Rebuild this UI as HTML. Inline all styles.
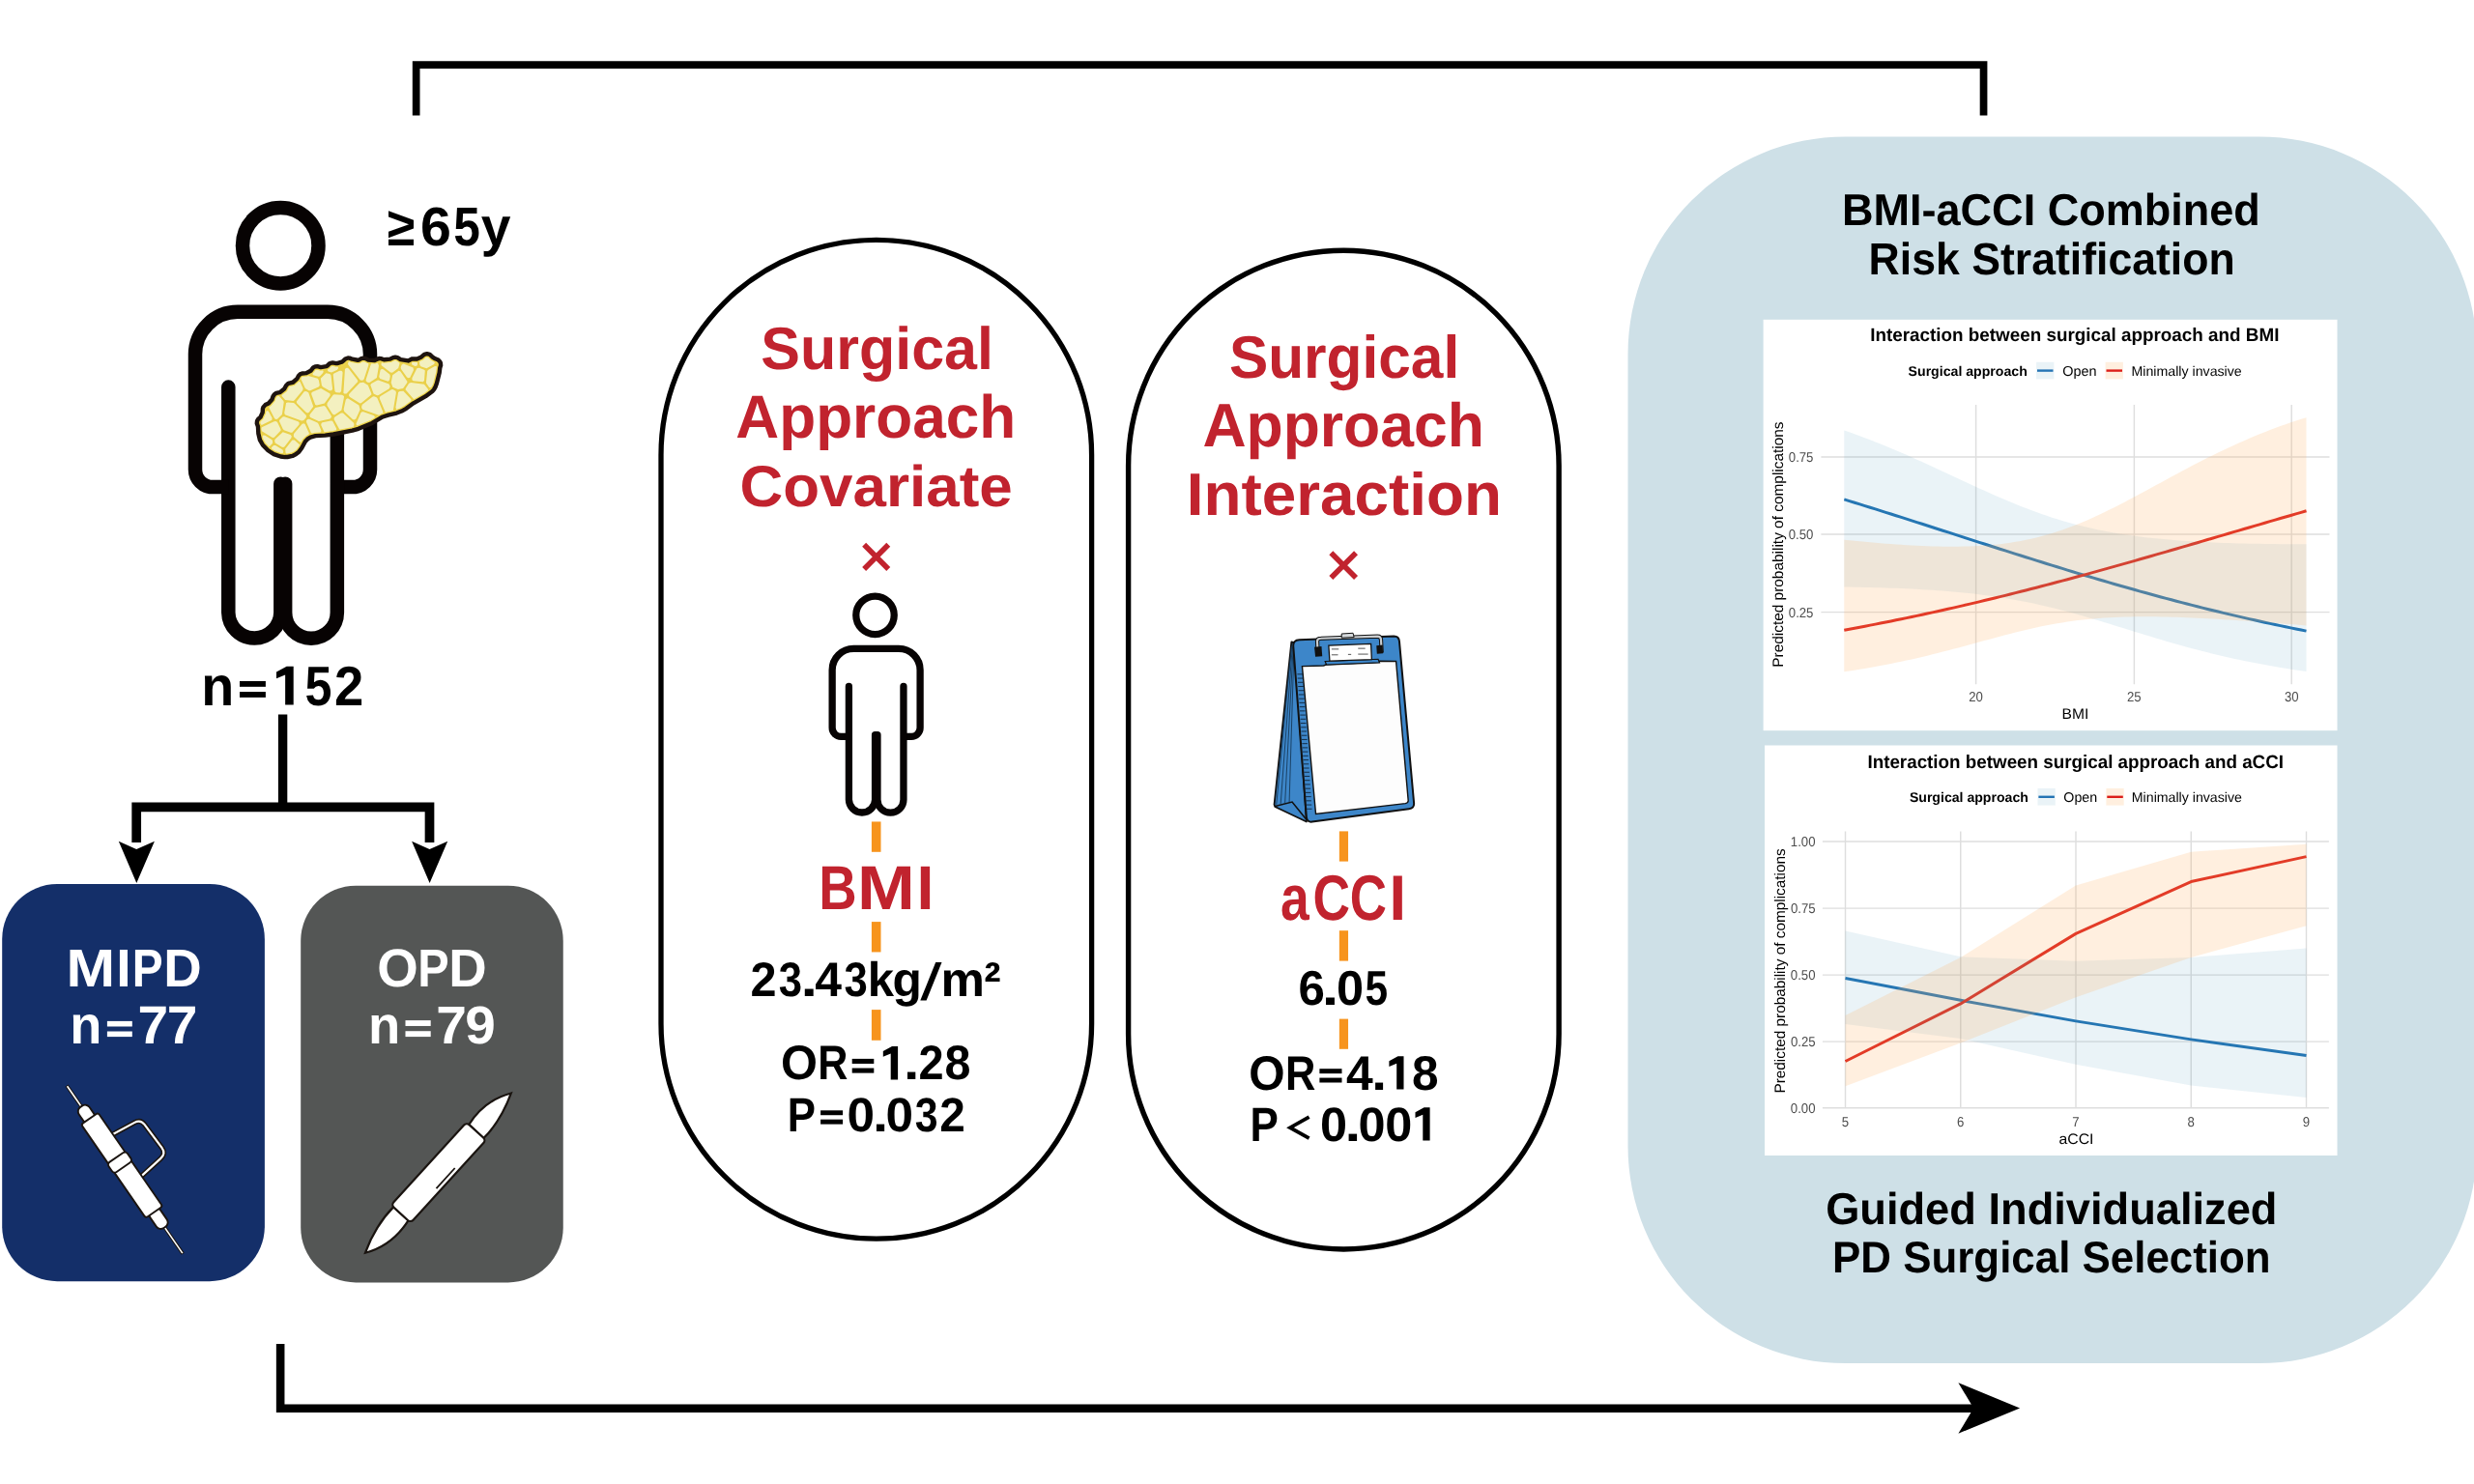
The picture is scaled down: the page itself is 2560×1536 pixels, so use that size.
<!DOCTYPE html>
<html><head><meta charset="utf-8"><title>Graphical abstract</title>
<style>
html,body{margin:0;padding:0;background:#fff;width:2560px;height:1536px;overflow:hidden}
svg{display:block;will-change:transform;font-family:"Liberation Sans",sans-serif;font-kerning:none;text-rendering:geometricPrecision}
</style></head><body>
<svg width="2560" height="1536" viewBox="0 0 2560 1536">
<rect width="2560" height="1536" fill="#fff"/>
<path d="M430.65,119.6 V67.15 H2052.55 V119.6" fill="none" stroke="#000" stroke-width="7.7"/>
<path d="M290.15,1391 V1457.7 H2045" fill="none" stroke="#000" stroke-width="8.6"/>
<polygon points="2026.4,1431.2 2090.1,1457.6 2026.4,1483.7 2042.2,1457.6" fill="#000"/>
<path d="M292.6,739.4 V835.3" fill="none" stroke="#000" stroke-width="9.4"/>
<path d="M141.2,872 V835.3 H444.5 V872" fill="none" stroke="#000" stroke-width="9.7"/>
<polygon points="122.79999999999998,870.8 141.29999999999998,914 159.89999999999998,870.8 141.2,879.1" fill="#000"/>
<polygon points="426.1,870.8 444.6,914 463.2,870.8 444.5,879.1" fill="#000"/>
<rect x="2.2" y="915.1" width="271.7" height="411.1" rx="57" fill="#142f69"/>
<rect x="311.2" y="916.7" width="271.55" height="410.7" rx="57" fill="#545655"/>
<text transform="translate(400.86,254.00) scale(0.9179,1)" font-size="56.54" font-weight="bold" fill="#000">≥</text>
<text transform="translate(435.10,254.00) scale(1.0135,1)" font-size="56.54" font-weight="bold" fill="#000">6</text>
<text transform="translate(469.27,254.00) scale(0.8780,1)" font-size="56.54" font-weight="bold" fill="#000">5</text>
<text transform="translate(497.87,254.00) scale(0.9772,1)" font-size="56.54" font-weight="bold" fill="#000">y</text>
<text transform="translate(208.23,729.50) scale(0.9653,1)" font-size="57.70" font-weight="bold" fill="#000">n</text>
<rect x="248.00" y="705.00" width="26.90" height="5.83" fill="#000"/>
<rect x="248.00" y="716.07" width="26.90" height="5.83" fill="#000"/>
<polygon points="296.64,689.80 303.70,689.80 303.70,729.50 295.14,729.50 295.14,698.57 286.00,702.15 286.00,695.57" fill="#000"/>
<text transform="translate(315.55,729.50) scale(0.8708,1)" font-size="57.70" font-weight="bold" fill="#000">5</text>
<text transform="translate(345.91,729.50) scale(0.9431,1)" font-size="57.70" font-weight="bold" fill="#000">2</text>
<text transform="translate(68.43,1020.90) scale(1.1005,1)" font-size="55.23" font-weight="bold" fill="#fff">M</text>
<text transform="translate(120.18,1020.90) scale(1.0055,1)" font-size="55.23" font-weight="bold" fill="#fff">I</text>
<text transform="translate(136.80,1020.90) scale(0.8670,1)" font-size="55.23" font-weight="bold" fill="#fff">P</text>
<text transform="translate(169.15,1020.90) scale(0.9890,1)" font-size="55.23" font-weight="bold" fill="#fff">D</text>
<text transform="translate(72.22,1080.30) scale(0.9746,1)" font-size="55.67" font-weight="bold" fill="#fff">n</text>
<rect x="110.90" y="1056.90" width="25.90" height="5.59" fill="#fff"/>
<rect x="110.90" y="1067.51" width="25.90" height="5.59" fill="#fff"/>
<text transform="translate(142.46,1080.30) scale(1.0221,1)" font-size="55.67" font-weight="bold" fill="#fff">7</text>
<text transform="translate(172.76,1080.30) scale(1.0221,1)" font-size="55.67" font-weight="bold" fill="#fff">7</text>
<text transform="translate(390.16,1020.90) scale(0.9876,1)" font-size="55.38" font-weight="bold" fill="#fff">O</text>
<text transform="translate(432.35,1020.90) scale(0.8775,1)" font-size="55.38" font-weight="bold" fill="#fff">P</text>
<text transform="translate(464.35,1020.90) scale(0.9864,1)" font-size="55.38" font-weight="bold" fill="#fff">D</text>
<text transform="translate(381.11,1080.30) scale(0.9886,1)" font-size="55.09" font-weight="bold" fill="#fff">n</text>
<rect x="419.50" y="1056.10" width="26.20" height="5.86" fill="#fff"/>
<rect x="419.50" y="1067.23" width="26.20" height="5.86" fill="#fff"/>
<text transform="translate(451.36,1080.30) scale(1.0329,1)" font-size="55.09" font-weight="bold" fill="#fff">7</text>
<text transform="translate(481.33,1080.30) scale(1.0306,1)" font-size="55.09" font-weight="bold" fill="#fff">9</text>
<g><circle cx="290.25" cy="254.15" r="39.25" fill="none" stroke="#070303" stroke-width="14.5"/><path d="M290.35,500.7 V634 A27.03,27.03 0 0 1 236.3,634 V400.6" fill="none" stroke="#070303" stroke-width="14.5" stroke-linecap="round"/><path d="M236.3,504.1 H220.1 A18,18 0 0 1 202,486.1 V366.9 A44,44 0 0 1 246,322.85 H339 A44,44 0 0 1 383,366.9 V486.1 A18,18 0 0 1 365,504.1 H348.85" fill="none" stroke="#070303" stroke-width="14.5" stroke-linejoin="round"/><path d="M348.85,400.6 V634 A26.85,26.85 0 0 1 295.15,634 V500.7" fill="none" stroke="#070303" stroke-width="14.5" stroke-linecap="round"/></g>
<g transform="translate(759.649,509.090) scale(0.5025)"><circle cx="290.25" cy="254.15" r="39.25" fill="none" stroke="#070303" stroke-width="14.5"/><path d="M290.35,500.7 V634 A27.03,27.03 0 0 1 236.3,634 V400.6" fill="none" stroke="#070303" stroke-width="14.5" stroke-linecap="round"/><path d="M236.3,504.1 H220.1 A18,18 0 0 1 202,486.1 V366.9 A44,44 0 0 1 246,322.85 H339 A44,44 0 0 1 383,366.9 V486.1 A18,18 0 0 1 365,504.1 H348.85" fill="none" stroke="#070303" stroke-width="14.5" stroke-linejoin="round"/><path d="M348.85,400.6 V634 A26.85,26.85 0 0 1 295.15,634 V500.7" fill="none" stroke="#070303" stroke-width="14.5" stroke-linecap="round"/></g>
<path d="M266.96,441.42 L267.35,448.83 L268.94,455.36 L271.99,460.77 L277.37,466.27 L283.39,470.17 L290.30,472.48 L294.78,473.06 L297.48,473.02 L302.68,471.90 L305.95,470.33 L309.28,467.75 L312.21,463.70 L315.87,456.94 L318.26,454.40 L321.25,452.60 L326.48,451.12 L336.40,450.64 L344.99,449.52 L364.55,445.62 L370.90,443.79 L385.05,437.92 L396.02,431.47 L401.79,429.62 L410.41,427.57 L415.59,425.56 L420.40,422.83 L427.86,417.35 L440.44,410.21 L447.39,405.09 L449.05,403.15 L450.74,400.09 L451.92,396.84 L454.70,385.70 L455.24,380.99 L456.11,378.09 L455.88,375.70 L455.17,374.21 L453.52,372.57 L450.35,371.32 L447.67,369.61 L444.72,366.88 L441.81,366.16 L439.02,366.86 L436.06,369.42 L431.51,371.43 L426.66,371.35 L422.36,373.44 L414.54,372.09 L411.36,370.09 L409.08,369.63 L406.73,370.10 L403.69,371.64 L397.28,372.25 L394.15,371.15 L392.42,371.06 L390.69,371.49 L387.65,372.93 L381.13,372.62 L378.49,371.16 L376.17,370.70 L373.81,371.17 L371.28,372.58 L370.22,372.76 L364.45,371.71 L361.68,370.61 L360.08,370.53 L357.22,371.55 L354.41,374.29 L348.74,376.05 L347.87,376.13 L344.27,375.40 L341.94,375.86 L340.45,376.75 L338.61,378.63 L337.80,379.06 L331.90,380.07 L328.47,379.18 L326.15,379.41 L324.13,380.49 L321.48,383.77 L317.01,386.15 L312.74,386.44 L310.56,387.34 L308.90,389.00 L307.46,391.87 L303.09,395.74 L299.34,396.54 L297.80,397.26 L296.09,398.96 L294.18,402.58 L289.49,406.15 L285.80,406.95 L283.85,408.25 L282.54,410.21 L281.43,413.54 L277.83,417.56 L274.52,419.11 L272.46,421.38 L271.92,422.89 L271.68,426.91 L269.58,431.54 L267.13,433.83 L266.02,435.91 L265.80,438.17Z" fill="#ead04a"/><path d="M274.3,450.8 L272.8,450.5 L271.5,451.1 L270.9,452.5 L271.3,454.3 L274.2,459.5 L276.9,462.1 L278.8,462.3 L282.1,458.8 L282.0,456.1 L281.1,455.1ZM281.3,462.8 L280.7,464.1 L281.0,465.4 L284.4,467.8 L290.7,469.9 L292.0,469.7 L292.9,468.8 L293.2,467.3 L292.4,465.4 L285.1,461.0 L283.2,461.0ZM268.5,438.4 L269.5,439.6 L271.2,439.8 L281.4,434.7 L281.6,432.6 L277.7,425.6 L276.0,425.2 L274.6,426.2 L271.7,432.9 L268.7,436.3ZM292.2,407.2 L291.4,408.5 L291.6,409.9 L295.2,413.9 L303.6,414.9 L304.9,414.1 L313.2,403.9 L313.6,402.0 L310.7,395.6 L309.7,394.8 L308.4,394.7 L303.9,398.2 L299.2,399.4 L296.3,404.0ZM283.8,452.7 L290.6,445.5 L290.5,444.3 L287.0,437.1 L285.5,436.1 L283.6,436.2 L270.9,442.2 L269.7,443.8 L270.5,446.0 L282.0,453.1ZM284.8,454.5 L284.1,456.1 L284.8,458.4 L291.8,462.7 L293.2,463.0 L294.5,462.3 L301.4,453.2 L301.8,451.5 L300.6,449.9 L292.7,447.3ZM323.8,385.1 L323.2,386.7 L324.1,388.2 L329.6,389.8 L330.9,389.4 L334.0,386.3 L334.7,384.8 L334.3,383.5 L333.3,382.7 L328.0,381.7 L325.8,382.5ZM283.5,414.9 L278.4,420.7 L278.5,422.2 L284.0,432.9 L285.4,434.0 L287.0,433.8 L291.9,428.9 L293.7,416.5 L293.4,415.1 L288.8,409.9 L286.7,409.5 L284.9,411.2ZM295.5,468.6 L296.3,469.9 L297.7,470.4 L301.9,469.5 L304.6,468.2 L307.5,465.9 L309.9,462.6 L310.3,461.4 L310.0,460.2 L304.6,455.4 L302.4,455.5 L295.2,464.8ZM292.7,444.1 L293.9,445.2 L300.9,447.8 L302.3,447.7 L309.5,439.5 L309.7,437.5 L308.4,436.2 L294.3,431.3 L292.8,431.3 L289.4,434.4 L288.9,435.8ZM303.8,451.4 L304.4,452.5 L309.8,457.2 L311.4,457.8 L312.8,457.1 L316.5,452.6 L319.4,450.6 L319.9,448.5 L315.6,439.0 L314.1,438.3 L312.5,439.0 L304.0,449.1ZM314.3,435.0 L316.9,431.9 L316.9,429.9 L304.7,417.6 L303.6,417.0 L297.9,416.5 L296.1,417.1 L294.2,427.2 L294.9,429.2 L312.1,435.4ZM329.5,438.7 L328.5,437.6 L319.9,433.7 L318.2,433.9 L317.0,435.5 L317.1,436.9 L321.8,447.8 L323.3,449.1 L330.8,448.4 L332.1,447.4 L332.4,445.6ZM324.2,420.7 L319.2,406.2 L316.8,405.0 L314.8,405.2 L306.7,415.7 L307.3,417.4 L316.7,426.8 L318.1,427.4 L319.8,426.8ZM322.2,407.9 L326.3,419.1 L327.8,419.5 L335.8,417.4 L341.6,409.6 L341.6,407.4 L332.1,401.9 L323.1,405.7 L322.3,406.7ZM320.8,428.8 L320.3,430.5 L321.2,432.0 L329.9,435.9 L341.5,433.5 L343.0,431.7 L342.7,430.2 L336.9,420.9 L335.4,419.9 L326.3,422.1ZM312.6,389.2 L311.4,390.4 L311.3,391.9 L315.6,401.6 L316.6,402.6 L319.7,404.2 L321.0,404.3 L329.5,400.6 L330.5,399.6 L330.8,398.4 L329.8,393.4 L328.7,391.8 L317.9,388.8ZM332.2,440.1 L335.8,447.7 L337.1,448.0 L344.7,447.0 L347.9,445.9 L348.2,443.7 L344.1,435.8 L342.2,435.4 L333.6,437.3 L332.6,438.0ZM342.3,378.6 L338.9,382.3 L339.2,383.9 L340.3,384.7 L343.0,385.4 L349.0,382.7 L350.1,380.9 L349.8,379.7 L348.8,378.8 L344.3,378.0ZM340.8,404.3 L343.1,404.3 L344.1,402.6 L342.5,388.6 L341.3,387.1 L337.4,386.3 L331.8,391.7 L332.9,398.8 L333.8,400.2ZM338.6,417.2 L338.4,419.5 L343.9,428.3 L345.0,429.2 L346.5,429.2 L353.4,424.5 L356.1,410.5 L355.3,409.5 L353.7,408.8 L345.6,408.3 L344.5,409.1ZM368.4,438.7 L369.3,440.6 L371.4,440.9 L384.1,435.6 L387.5,433.5 L387.9,431.2 L386.6,429.9 L376.1,426.2 L374.6,426.2 L373.4,427.3ZM346.6,431.6 L345.7,432.8 L345.7,434.3 L351.6,445.1 L353.1,445.3 L363.9,443.2 L366.0,442.0 L366.4,438.9 L366.0,437.8 L354.9,427.5 L352.9,427.5ZM428.0,373.9 L426.0,375.0 L426.1,377.3 L429.3,379.1 L431.2,378.8 L432.1,377.3 L431.8,375.1 L430.7,374.1ZM356.9,382.5 L355.4,406.7 L356.3,407.6 L358.5,407.4 L370.3,395.0 L369.9,393.2 L360.8,381.5 L359.5,380.7 L357.8,381.1ZM346.4,404.4 L347.1,405.7 L348.4,406.3 L351.7,406.4 L353.1,404.9 L354.6,385.7 L354.2,384.5 L353.2,383.7 L351.5,383.8 L345.6,386.6 L344.7,387.7ZM370.6,375.3 L361.8,373.8 L360.6,374.6 L360.0,376.4 L360.3,377.6 L372.4,393.1 L373.7,393.8 L375.8,393.4 L376.7,392.3 L381.4,377.7 L381.2,375.8 L376.4,373.3ZM355.6,423.8 L356.3,425.9 L364.9,434.0 L366.5,434.6 L368.3,433.5 L372.6,423.9 L371.4,419.6 L359.9,412.3 L358.7,412.7 L357.8,413.8ZM374.0,417.0 L384.3,408.5 L384.3,407.2 L380.8,398.7 L376.0,395.8 L372.3,396.3 L361.5,407.4 L360.8,408.9 L361.8,410.7 L372.6,417.5ZM374.9,418.8 L374.1,420.9 L374.5,422.9 L375.6,423.9 L392.8,429.9 L395.4,429.0 L396.3,427.9 L396.3,426.2 L390.5,412.3 L389.5,411.2 L387.0,410.3 L385.7,410.5ZM404.4,374.1 L395.6,374.9 L394.7,375.8 L394.4,377.0 L394.8,378.2 L403.8,385.3 L405.0,385.8 L406.3,385.5 L412.2,381.1 L413.6,375.9 L412.8,374.1 L409.3,372.2ZM402.7,402.2 L403.7,400.1 L402.5,397.6 L391.5,393.5 L390.3,393.7 L384.3,397.0 L383.3,398.5 L386.6,407.6 L390.2,409.3 L391.7,409.0ZM393.8,410.1 L392.9,411.0 L392.8,412.6 L398.7,426.5 L400.6,427.3 L406.0,425.9 L406.9,424.5 L409.9,406.5 L409.5,404.8 L406.4,403.1 L405.0,403.2ZM380.3,395.7 L382.3,395.9 L389.9,391.1 L392.0,378.6 L391.3,376.4 L390.2,375.4 L385.5,375.4 L383.9,376.7 L378.6,392.9 L378.8,394.5ZM403.8,389.3 L403.2,387.4 L396.6,382.3 L394.9,382.0 L393.6,382.9 L392.2,390.0 L393.3,392.0 L401.6,394.7 L403.1,393.3ZM404.7,396.1 L406.4,400.7 L411.9,403.1 L417.1,402.0 L421.2,396.2 L421.5,394.9 L414.4,384.6 L412.6,383.8 L406.2,388.3ZM409.4,421.7 L410.3,423.9 L412.4,424.1 L418.9,420.8 L425.6,415.5 L425.4,413.3 L417.4,404.7 L413.6,404.9 L412.1,406.0ZM414.7,380.3 L415.0,381.9 L421.1,390.5 L422.7,391.2 L424.3,390.7 L428.0,382.9 L427.5,380.6 L417.4,376.4 L415.6,377.4ZM426.4,391.3 L426.4,393.2 L427.7,394.3 L437.9,395.2 L439.0,393.7 L439.8,383.6 L438.9,382.7 L433.8,380.7 L431.4,381.2ZM425.2,396.0 L423.2,396.8 L419.8,401.9 L419.5,403.3 L428.2,413.2 L430.3,413.1 L439.0,408.2 L443.1,404.9 L442.9,402.8 L438.9,397.8ZM434.2,377.3 L435.4,379.2 L441.4,381.3 L449.1,377.1 L450.0,375.0 L449.3,373.7 L446.0,371.5 L444.0,369.4 L441.5,368.8 L434.7,373.0 L434.1,374.1ZM443.3,382.7 L442.2,384.1 L440.9,396.3 L444.1,400.9 L446.1,401.6 L447.5,400.7 L449.5,396.2 L452.2,385.4 L452.6,380.7 L451.7,379.3 L450.0,379.0Z" fill="#f3f0c0"/><clipPath id="pcl"><path d="M266.96,441.42 L267.35,448.83 L268.94,455.36 L271.99,460.77 L277.37,466.27 L283.39,470.17 L290.30,472.48 L294.78,473.06 L297.48,473.02 L302.68,471.90 L305.95,470.33 L309.28,467.75 L312.21,463.70 L315.87,456.94 L318.26,454.40 L321.25,452.60 L326.48,451.12 L336.40,450.64 L344.99,449.52 L364.55,445.62 L370.90,443.79 L385.05,437.92 L396.02,431.47 L401.79,429.62 L410.41,427.57 L415.59,425.56 L420.40,422.83 L427.86,417.35 L440.44,410.21 L447.39,405.09 L449.05,403.15 L450.74,400.09 L451.92,396.84 L454.70,385.70 L455.24,380.99 L456.11,378.09 L455.88,375.70 L455.17,374.21 L453.52,372.57 L450.35,371.32 L447.67,369.61 L444.72,366.88 L441.81,366.16 L439.02,366.86 L436.06,369.42 L431.51,371.43 L426.66,371.35 L422.36,373.44 L414.54,372.09 L411.36,370.09 L409.08,369.63 L406.73,370.10 L403.69,371.64 L397.28,372.25 L394.15,371.15 L392.42,371.06 L390.69,371.49 L387.65,372.93 L381.13,372.62 L378.49,371.16 L376.17,370.70 L373.81,371.17 L371.28,372.58 L370.22,372.76 L364.45,371.71 L361.68,370.61 L360.08,370.53 L357.22,371.55 L354.41,374.29 L348.74,376.05 L347.87,376.13 L344.27,375.40 L341.94,375.86 L340.45,376.75 L338.61,378.63 L337.80,379.06 L331.90,380.07 L328.47,379.18 L326.15,379.41 L324.13,380.49 L321.48,383.77 L317.01,386.15 L312.74,386.44 L310.56,387.34 L308.90,389.00 L307.46,391.87 L303.09,395.74 L299.34,396.54 L297.80,397.26 L296.09,398.96 L294.18,402.58 L289.49,406.15 L285.80,406.95 L283.85,408.25 L282.54,410.21 L281.43,413.54 L277.83,417.56 L274.52,419.11 L272.46,421.38 L271.92,422.89 L271.68,426.91 L269.58,431.54 L267.13,433.83 L266.02,435.91 L265.80,438.17Z"/></clipPath><path d="M266.96,441.42 L267.35,448.83 L268.94,455.36 L271.99,460.77 L277.37,466.27 L283.39,470.17 L290.30,472.48 L294.78,473.06 L297.48,473.02 L302.68,471.90 L305.95,470.33 L309.28,467.75 L312.21,463.70 L315.87,456.94 L318.26,454.40 L321.25,452.60 L326.48,451.12 L336.40,450.64 L344.99,449.52 L364.55,445.62 L370.90,443.79 L385.05,437.92 L396.02,431.47 L401.79,429.62 L410.41,427.57 L415.59,425.56 L420.40,422.83 L427.86,417.35 L440.44,410.21 L447.39,405.09 L449.05,403.15 L450.74,400.09 L451.92,396.84 L454.70,385.70 L455.24,380.99 L456.11,378.09 L455.88,375.70 L455.17,374.21 L453.52,372.57 L450.35,371.32 L447.67,369.61 L444.72,366.88 L441.81,366.16 L439.02,366.86 L436.06,369.42 L431.51,371.43 L426.66,371.35 L422.36,373.44 L414.54,372.09 L411.36,370.09 L409.08,369.63 L406.73,370.10 L403.69,371.64 L397.28,372.25 L394.15,371.15 L392.42,371.06 L390.69,371.49 L387.65,372.93 L381.13,372.62 L378.49,371.16 L376.17,370.70 L373.81,371.17 L371.28,372.58 L370.22,372.76 L364.45,371.71 L361.68,370.61 L360.08,370.53 L357.22,371.55 L354.41,374.29 L348.74,376.05 L347.87,376.13 L344.27,375.40 L341.94,375.86 L340.45,376.75 L338.61,378.63 L337.80,379.06 L331.90,380.07 L328.47,379.18 L326.15,379.41 L324.13,380.49 L321.48,383.77 L317.01,386.15 L312.74,386.44 L310.56,387.34 L308.90,389.00 L307.46,391.87 L303.09,395.74 L299.34,396.54 L297.80,397.26 L296.09,398.96 L294.18,402.58 L289.49,406.15 L285.80,406.95 L283.85,408.25 L282.54,410.21 L281.43,413.54 L277.83,417.56 L274.52,419.11 L272.46,421.38 L271.92,422.89 L271.68,426.91 L269.58,431.54 L267.13,433.83 L266.02,435.91 L265.80,438.17Z" fill="none" stroke="#efd64c" stroke-width="7" clip-path="url(#pcl)"/><path d="M266.96,441.42 L267.35,448.83 L268.94,455.36 L271.99,460.77 L277.37,466.27 L283.39,470.17 L290.30,472.48 L294.78,473.06 L297.48,473.02 L302.68,471.90 L305.95,470.33 L309.28,467.75 L312.21,463.70 L315.87,456.94 L318.26,454.40 L321.25,452.60 L326.48,451.12 L336.40,450.64 L344.99,449.52 L364.55,445.62 L370.90,443.79 L385.05,437.92 L396.02,431.47 L401.79,429.62 L410.41,427.57 L415.59,425.56 L420.40,422.83 L427.86,417.35 L440.44,410.21 L447.39,405.09 L449.05,403.15 L450.74,400.09 L451.92,396.84 L454.70,385.70 L455.24,380.99 L456.11,378.09 L455.88,375.70 L455.17,374.21 L453.52,372.57 L450.35,371.32 L447.67,369.61 L444.72,366.88 L441.81,366.16 L439.02,366.86 L436.06,369.42 L431.51,371.43 L426.66,371.35 L422.36,373.44 L414.54,372.09 L411.36,370.09 L409.08,369.63 L406.73,370.10 L403.69,371.64 L397.28,372.25 L394.15,371.15 L392.42,371.06 L390.69,371.49 L387.65,372.93 L381.13,372.62 L378.49,371.16 L376.17,370.70 L373.81,371.17 L371.28,372.58 L370.22,372.76 L364.45,371.71 L361.68,370.61 L360.08,370.53 L357.22,371.55 L354.41,374.29 L348.74,376.05 L347.87,376.13 L344.27,375.40 L341.94,375.86 L340.45,376.75 L338.61,378.63 L337.80,379.06 L331.90,380.07 L328.47,379.18 L326.15,379.41 L324.13,380.49 L321.48,383.77 L317.01,386.15 L312.74,386.44 L310.56,387.34 L308.90,389.00 L307.46,391.87 L303.09,395.74 L299.34,396.54 L297.80,397.26 L296.09,398.96 L294.18,402.58 L289.49,406.15 L285.80,406.95 L283.85,408.25 L282.54,410.21 L281.43,413.54 L277.83,417.56 L274.52,419.11 L272.46,421.38 L271.92,422.89 L271.68,426.91 L269.58,431.54 L267.13,433.83 L266.02,435.91 L265.80,438.17Z" fill="none" stroke="#1e1410" stroke-width="4.4" stroke-linejoin="round"/>
<rect x="684" y="248.3" width="445.6" height="1033.9" rx="222.8" fill="none" stroke="#000" stroke-width="5.3"/>
<rect x="1167.6" y="259.2" width="445.5" height="1033.8" rx="222.75" fill="none" stroke="#000" stroke-width="5.4"/>
<text transform="translate(787.24,381.80) scale(0.9866,1)" font-size="61.83" font-weight="bold" fill="#c1232e">Surgical</text>
<text transform="translate(761.35,453.00) scale(0.9896,1)" font-size="62.79" font-weight="bold" fill="#c1232e">Approach</text>
<text transform="translate(765.46,523.60) scale(1.0296,1)" font-size="60.17" font-weight="bold" fill="#c1232e">Covariate</text>
<text transform="translate(1271.96,391.00) scale(0.9725,1)" font-size="62.10" font-weight="bold" fill="#c1232e">Surgical</text>
<text transform="translate(1244.44,462.00) scale(0.9794,1)" font-size="63.76" font-weight="bold" fill="#c1232e">Approach</text>
<text transform="translate(1227.73,533.00) scale(1.0276,1)" font-size="62.10" font-weight="bold" fill="#c1232e">Interaction</text>
<path d="M894.1500000000001,563.85 L919.25,588.9499999999999 M919.25,563.85 L894.1500000000001,588.9499999999999" stroke="#c1232e" stroke-width="5.6"/>
<path d="M1377.3500000000001,572.35 L1403.05,598.0500000000001 M1403.05,572.35 L1377.3500000000001,598.0500000000001" stroke="#c1232e" stroke-width="5.6"/>
<rect x="901.90" y="850.45" width="9.6" height="31.35" fill="#f7941d"/>
<rect x="901.90" y="954.1" width="9.6" height="31.35" fill="#f7941d"/>
<rect x="901.90" y="1045.1" width="9.6" height="31.70" fill="#f7941d"/>
<rect x="1385.85" y="860.4" width="9.2" height="31.20" fill="#f7941d"/>
<rect x="1385.85" y="963.2" width="9.2" height="31.40" fill="#f7941d"/>
<rect x="1385.85" y="1054.6" width="9.2" height="31.20" fill="#f7941d"/>
<text transform="translate(847.25,941.20) scale(0.8499,1)" font-size="64.24" font-weight="bold" fill="#c1232e">B</text>
<text transform="translate(887.00,941.20) scale(1.1175,1)" font-size="64.24" font-weight="bold" fill="#c1232e">M</text>
<text transform="translate(948.58,941.20) scale(1.0050,1)" font-size="64.24" font-weight="bold" fill="#c1232e">I</text>
<text transform="translate(776.62,1030.60) scale(0.9693,1)" font-size="50.15" font-weight="bold" fill="#000">2</text>
<text transform="translate(805.70,1030.60) scale(0.8706,1)" font-size="50.15" font-weight="bold" fill="#000">3</text>
<text transform="translate(828.52,1030.60) scale(1.2577,1)" font-size="50.15" font-weight="bold" fill="#000">.</text>
<text transform="translate(843.15,1030.60) scale(0.9940,1)" font-size="50.15" font-weight="bold" fill="#000">4</text>
<text transform="translate(873.50,1030.60) scale(0.8706,1)" font-size="50.15" font-weight="bold" fill="#000">3</text>
<text transform="translate(897.78,1030.60) scale(0.9781,1)" font-size="50.15" font-weight="bold" fill="#000">k</text>
<text transform="translate(923.56,1030.60) scale(0.9913,1)" font-size="50.15" font-weight="bold" fill="#000">g</text>
<text transform="translate(973.43,1030.60) scale(1.0191,1)" font-size="50.15" font-weight="bold" fill="#000">m</text>
<text transform="translate(1018.30,1035.06) scale(0.5224,0.5596)" font-size="100.0" font-weight="bold" fill="#000">²</text>
<polygon points="952.3,1035.6 958.6,1035.6 974.5,996.1 968.2,996.1" fill="#000"/>
<text transform="translate(808.00,1117.40) scale(0.9758,1)" font-size="50.00" font-weight="bold" fill="#000">O</text>
<text transform="translate(846.21,1117.40) scale(0.8633,1)" font-size="50.00" font-weight="bold" fill="#000">R</text>
<rect x="881.70" y="1095.90" width="22.60" height="5.07" fill="#000"/>
<rect x="881.70" y="1105.53" width="22.60" height="5.07" fill="#000"/>
<polygon points="923.00,1083.00 929.10,1083.00 929.10,1117.40 921.70,1117.40 921.70,1090.60 913.80,1093.70 913.80,1088.00" fill="#000"/>
<text transform="translate(935.01,1117.40) scale(1.1764,1)" font-size="50.00" font-weight="bold" fill="#000">.</text>
<text transform="translate(950.47,1117.40) scale(0.9388,1)" font-size="50.00" font-weight="bold" fill="#000">2</text>
<text transform="translate(977.46,1117.40) scale(0.9683,1)" font-size="50.00" font-weight="bold" fill="#000">8</text>
<text transform="translate(814.87,1170.60) scale(0.8790,1)" font-size="49.85" font-weight="bold" fill="#000">P</text>
<rect x="849.10" y="1149.30" width="23.00" height="4.93" fill="#000"/>
<rect x="849.10" y="1158.67" width="23.00" height="4.93" fill="#000"/>
<text transform="translate(876.57,1170.60) scale(1.0291,1)" font-size="49.85" font-weight="bold" fill="#000">0</text>
<text transform="translate(902.96,1170.60) scale(1.1656,1)" font-size="49.85" font-weight="bold" fill="#000">.</text>
<text transform="translate(916.57,1170.60) scale(1.0291,1)" font-size="49.85" font-weight="bold" fill="#000">0</text>
<text transform="translate(946.72,1170.60) scale(0.8595,1)" font-size="49.85" font-weight="bold" fill="#000">3</text>
<text transform="translate(972.14,1170.60) scale(0.9582,1)" font-size="49.85" font-weight="bold" fill="#000">2</text>
<text transform="translate(1324.93,951.70) scale(0.8082,1)" font-size="66.13" font-weight="bold" fill="#c1232e">a</text>
<text transform="translate(1358.61,951.70) scale(0.8071,1)" font-size="66.13" font-weight="bold" fill="#c1232e">C</text>
<text transform="translate(1396.83,951.70) scale(0.8002,1)" font-size="66.13" font-weight="bold" fill="#c1232e">C</text>
<text transform="translate(1437.47,951.70) scale(0.9553,1)" font-size="66.13" font-weight="bold" fill="#c1232e">I</text>
<text transform="translate(1343.40,1040.40) scale(0.9762,1)" font-size="50.44" font-weight="bold" fill="#000">6</text>
<text transform="translate(1367.82,1040.40) scale(1.2505,1)" font-size="50.44" font-weight="bold" fill="#000">.</text>
<text transform="translate(1383.00,1040.40) scale(1.0006,1)" font-size="50.44" font-weight="bold" fill="#000">0</text>
<text transform="translate(1412.60,1040.40) scale(0.8408,1)" font-size="50.44" font-weight="bold" fill="#000">5</text>
<text transform="translate(1292.23,1127.60) scale(0.9614,1)" font-size="50.00" font-weight="bold" fill="#000">O</text>
<text transform="translate(1329.99,1127.60) scale(0.8696,1)" font-size="50.00" font-weight="bold" fill="#000">R</text>
<rect x="1365.40" y="1106.20" width="23.10" height="4.93" fill="#000"/>
<rect x="1365.40" y="1115.57" width="23.10" height="4.93" fill="#000"/>
<text transform="translate(1393.05,1127.60) scale(0.9969,1)" font-size="50.00" font-weight="bold" fill="#000">4</text>
<text transform="translate(1419.35,1127.60) scale(1.1338,1)" font-size="50.00" font-weight="bold" fill="#000">.</text>
<polygon points="1446.48,1093.20 1452.50,1093.20 1452.50,1127.60 1445.20,1127.60 1445.20,1100.80 1437.40,1103.90 1437.40,1098.20" fill="#000"/>
<text transform="translate(1461.12,1127.60) scale(0.9926,1)" font-size="50.00" font-weight="bold" fill="#000">8</text>
<text transform="translate(1293.56,1180.50) scale(0.8838,1)" font-size="49.78" font-weight="bold" fill="#000">P</text>
<text transform="translate(1366.00,1180.50) scale(1.0137,1)" font-size="49.78" font-weight="bold" fill="#000">0</text>
<text transform="translate(1391.51,1180.50) scale(1.2100,1)" font-size="49.78" font-weight="bold" fill="#000">.</text>
<text transform="translate(1405.60,1180.50) scale(1.0137,1)" font-size="49.78" font-weight="bold" fill="#000">0</text>
<text transform="translate(1433.20,1180.50) scale(1.0137,1)" font-size="49.78" font-weight="bold" fill="#000">0</text>
<polygon points="1473.58,1146.25 1479.60,1146.25 1479.60,1180.50 1472.30,1180.50 1472.30,1153.82 1464.50,1156.90 1464.50,1151.23" fill="#000"/>
<path d="M1354.6,1156.2 L1335,1167.2 L1354.6,1178.2" fill="none" stroke="#000" stroke-width="3.8" stroke-linejoin="miter"/>
<rect x="1684.5" y="141.5" width="878.5" height="1269.5" rx="225" fill="#cee0e7"/>
<text transform="translate(1905.99,233.40) scale(0.9774,1)" font-size="46.09" font-weight="bold" fill="#000">BMI-aCCI Combined</text>
<text transform="translate(1933.62,283.60) scale(0.9560,1)" font-size="46.65" font-weight="bold" fill="#000">Risk Stratification</text>
<text transform="translate(1889.14,1267.00) scale(0.9784,1)" font-size="46.23" font-weight="bold" fill="#000">Guided Individualized</text>
<text transform="translate(1896.06,1317.00) scale(0.9579,1)" font-size="45.82" font-weight="bold" fill="#000">PD Surgical Selection</text>
<rect x="1824.6" y="330.8" width="593.90" height="425.40" fill="#fff"/>
<text transform="translate(1935.14,352.80) scale(0.9826,1)" font-size="19.20" font-weight="bold" fill="#000">Interaction between surgical approach and BMI</text>
<text x="1974.59" y="388.70" font-size="14.14" font-weight="bold" fill="#000">Surgical approach</text>
<text x="2134.22" y="388.70" font-size="14.44" font-weight="normal" fill="#000">Open</text>
<text x="2205.54" y="388.70" font-size="14.18" font-weight="normal" fill="#000">Minimally invasive</text>
<rect x="2107.1" y="374.8" width="18.3" height="17.6" fill="#2d87af" fill-opacity="0.1"/>
<line x1="2108.0" y1="383.6" x2="2124.5" y2="383.6" stroke="#2474b4" stroke-width="2.4"/>
<rect x="2178.6" y="374.8" width="18.3" height="17.6" fill="#fdae61" fill-opacity="0.2"/>
<line x1="2179.5" y1="383.6" x2="2196.0" y2="383.6" stroke="#dc1f1a" stroke-width="2.4"/>
<line x1="1884.4" y1="473" x2="2410.5" y2="473" stroke="#dedede" stroke-width="1.45"/>
<line x1="1884.4" y1="552.9" x2="2410.5" y2="552.9" stroke="#dedede" stroke-width="1.45"/>
<line x1="1884.4" y1="633.6" x2="2410.5" y2="633.6" stroke="#dedede" stroke-width="1.45"/>
<line x1="2044.6" y1="419" x2="2044.6" y2="708.3" stroke="#dedede" stroke-width="1.45"/>
<line x1="2208.4" y1="419" x2="2208.4" y2="708.3" stroke="#dedede" stroke-width="1.45"/>
<line x1="2371.2" y1="419" x2="2371.2" y2="708.3" stroke="#dedede" stroke-width="1.45"/>
<text transform="translate(1850.80,477.98) scale(0.9250,1)" font-size="14.25" font-weight="normal" fill="#4d4d4d">0.75</text>
<text transform="translate(1850.76,557.88) scale(0.9250,1)" font-size="14.25" font-weight="normal" fill="#4d4d4d">0.50</text>
<text transform="translate(1850.80,638.58) scale(0.9250,1)" font-size="14.25" font-weight="normal" fill="#4d4d4d">0.25</text>
<text transform="translate(2037.20,725.90) scale(0.9250,1)" font-size="14.25" font-weight="normal" fill="#4d4d4d">20</text>
<text transform="translate(2201.01,725.90) scale(0.9250,1)" font-size="14.25" font-weight="normal" fill="#4d4d4d">25</text>
<text transform="translate(2363.88,725.90) scale(0.9250,1)" font-size="14.25" font-weight="normal" fill="#4d4d4d">30</text>
<text transform="translate(2133.52,743.50) scale(1.0164,1)" font-size="15.40" font-weight="normal" fill="#000">BMI</text>
<text transform="translate(1844.60,690.76) rotate(-90)" font-size="15.41" fill="#000">Predicted probability of complications</text>
<path d="M1908.30,516.93 L1913.67,518.57 L1919.05,520.23 L1924.42,521.89 L1929.79,523.56 L1935.17,525.24 L1940.54,526.92 L1945.91,528.61 L1951.28,530.31 L1956.66,532.01 L1962.03,533.71 L1967.40,535.42 L1972.78,537.13 L1978.15,538.85 L1983.52,540.57 L1988.90,542.29 L1994.27,544.01 L1999.64,545.74 L2005.01,547.47 L2010.39,549.20 L2015.76,550.93 L2021.13,552.66 L2026.51,554.39 L2031.88,556.12 L2037.25,557.85 L2042.63,559.58 L2048.00,561.31 L2053.37,563.03 L2058.74,564.76 L2064.12,566.48 L2069.49,568.20 L2074.86,569.91 L2080.24,571.62 L2085.61,573.32 L2090.98,575.02 L2096.36,576.72 L2101.73,578.41 L2107.10,580.10 L2112.48,581.77 L2117.85,583.45 L2123.22,585.11 L2128.59,586.77 L2133.97,588.42 L2139.34,590.06 L2144.71,591.70 L2150.09,593.32 L2155.46,594.94 L2160.83,596.55 L2166.21,598.15 L2171.58,599.73 L2176.95,601.31 L2182.32,602.88 L2187.70,604.44 L2193.07,605.99 L2198.44,607.52 L2203.82,609.05 L2209.19,610.56 L2214.56,612.07 L2219.94,613.56 L2225.31,615.03 L2230.68,616.50 L2236.06,617.95 L2241.43,619.39 L2246.80,620.82 L2252.17,622.24 L2257.55,623.64 L2262.92,625.03 L2268.29,626.40 L2273.67,627.77 L2279.04,629.11 L2284.41,630.45 L2289.79,631.77 L2295.16,633.08 L2300.53,634.37 L2305.90,635.65 L2311.28,636.91 L2316.65,638.16 L2322.02,639.40 L2327.40,640.62 L2332.77,641.83 L2338.14,643.02 L2343.52,644.20 L2348.89,645.36 L2354.26,646.51 L2359.63,647.65 L2365.01,648.77 L2370.38,649.88 L2375.75,650.97 L2381.13,652.05 L2386.50,653.11" fill="none" stroke="#2474b4" stroke-width="3.0"/>
<path d="M1908.30,652.15 L1913.67,651.17 L1919.05,650.18 L1924.42,649.18 L1929.79,648.16 L1935.17,647.14 L1940.54,646.10 L1945.91,645.05 L1951.28,643.98 L1956.66,642.91 L1962.03,641.82 L1967.40,640.72 L1972.78,639.61 L1978.15,638.49 L1983.52,637.36 L1988.90,636.21 L1994.27,635.06 L1999.64,633.89 L2005.01,632.71 L2010.39,631.51 L2015.76,630.31 L2021.13,629.10 L2026.51,627.87 L2031.88,626.63 L2037.25,625.38 L2042.63,624.12 L2048.00,622.85 L2053.37,621.57 L2058.74,620.28 L2064.12,618.98 L2069.49,617.66 L2074.86,616.34 L2080.24,615.00 L2085.61,613.66 L2090.98,612.30 L2096.36,610.94 L2101.73,609.57 L2107.10,608.18 L2112.48,606.79 L2117.85,605.39 L2123.22,603.97 L2128.59,602.55 L2133.97,601.13 L2139.34,599.69 L2144.71,598.24 L2150.09,596.79 L2155.46,595.33 L2160.83,593.86 L2166.21,592.38 L2171.58,590.90 L2176.95,589.41 L2182.32,587.91 L2187.70,586.41 L2193.07,584.90 L2198.44,583.38 L2203.82,581.86 L2209.19,580.34 L2214.56,578.80 L2219.94,577.27 L2225.31,575.73 L2230.68,574.18 L2236.06,572.63 L2241.43,571.08 L2246.80,569.52 L2252.17,567.96 L2257.55,566.40 L2262.92,564.83 L2268.29,563.27 L2273.67,561.70 L2279.04,560.12 L2284.41,558.55 L2289.79,556.98 L2295.16,555.40 L2300.53,553.83 L2305.90,552.25 L2311.28,550.68 L2316.65,549.10 L2322.02,547.53 L2327.40,545.96 L2332.77,544.39 L2338.14,542.82 L2343.52,541.25 L2348.89,539.68 L2354.26,538.12 L2359.63,536.56 L2365.01,535.00 L2370.38,533.45 L2375.75,531.90 L2381.13,530.35 L2386.50,528.81" fill="none" stroke="#dc1f1a" stroke-width="3.0"/>
<path d="M1908.30,445.38 L1913.67,447.27 L1919.05,449.20 L1924.42,451.18 L1929.79,453.21 L1935.17,455.27 L1940.54,457.39 L1945.91,459.54 L1951.28,461.73 L1956.66,463.96 L1962.03,466.23 L1967.40,468.53 L1972.78,470.87 L1978.15,473.24 L1983.52,475.63 L1988.90,478.05 L1994.27,480.50 L1999.64,482.96 L2005.01,485.44 L2010.39,487.93 L2015.76,490.43 L2021.13,492.93 L2026.51,495.44 L2031.88,497.94 L2037.25,500.44 L2042.63,502.92 L2048.00,505.39 L2053.37,507.83 L2058.74,510.25 L2064.12,512.64 L2069.49,514.99 L2074.86,517.30 L2080.24,519.57 L2085.61,521.78 L2090.98,523.95 L2096.36,526.06 L2101.73,528.11 L2107.10,530.09 L2112.48,532.01 L2117.85,533.86 L2123.22,535.65 L2128.59,537.36 L2133.97,539.00 L2139.34,540.56 L2144.71,542.06 L2150.09,543.48 L2155.46,544.83 L2160.83,546.11 L2166.21,547.32 L2171.58,548.47 L2176.95,549.55 L2182.32,550.57 L2187.70,551.53 L2193.07,552.43 L2198.44,553.28 L2203.82,554.07 L2209.19,554.81 L2214.56,555.51 L2219.94,556.16 L2225.31,556.76 L2230.68,557.33 L2236.06,557.86 L2241.43,558.35 L2246.80,558.81 L2252.17,559.23 L2257.55,559.63 L2262.92,560.00 L2268.29,560.33 L2273.67,560.65 L2279.04,560.94 L2284.41,561.20 L2289.79,561.45 L2295.16,561.67 L2300.53,561.88 L2305.90,562.07 L2311.28,562.24 L2316.65,562.40 L2322.02,562.53 L2327.40,562.66 L2332.77,562.77 L2338.14,562.87 L2343.52,562.96 L2348.89,563.03 L2354.26,563.10 L2359.63,563.15 L2365.01,563.19 L2370.38,563.23 L2375.75,563.25 L2381.13,563.27 L2386.50,563.28 L2386.50,695.03 L2381.13,694.27 L2375.75,693.48 L2370.38,692.66 L2365.01,691.81 L2359.63,690.93 L2354.26,690.03 L2348.89,689.09 L2343.52,688.12 L2338.14,687.12 L2332.77,686.09 L2327.40,685.02 L2322.02,683.93 L2316.65,682.80 L2311.28,681.63 L2305.90,680.44 L2300.53,679.21 L2295.16,677.95 L2289.79,676.65 L2284.41,675.32 L2279.04,673.97 L2273.67,672.58 L2268.29,671.16 L2262.92,669.71 L2257.55,668.23 L2252.17,666.72 L2246.80,665.19 L2241.43,663.63 L2236.06,662.06 L2230.68,660.46 L2225.31,658.84 L2219.94,657.21 L2214.56,655.57 L2209.19,653.91 L2203.82,652.25 L2198.44,650.59 L2193.07,648.92 L2187.70,647.26 L2182.32,645.61 L2176.95,643.96 L2171.58,642.33 L2166.21,640.72 L2160.83,639.14 L2155.46,637.57 L2150.09,636.04 L2144.71,634.54 L2139.34,633.08 L2133.97,631.66 L2128.59,630.27 L2123.22,628.93 L2117.85,627.64 L2112.48,626.40 L2107.10,625.20 L2101.73,624.06 L2096.36,622.96 L2090.98,621.91 L2085.61,620.92 L2080.24,619.97 L2074.86,619.07 L2069.49,618.22 L2064.12,617.41 L2058.74,616.65 L2053.37,615.93 L2048.00,615.26 L2042.63,614.62 L2037.25,614.03 L2031.88,613.47 L2026.51,612.94 L2021.13,612.45 L2015.76,611.99 L2010.39,611.57 L2005.01,611.17 L1999.64,610.80 L1994.27,610.45 L1988.90,610.13 L1983.52,609.83 L1978.15,609.55 L1972.78,609.30 L1967.40,609.06 L1962.03,608.84 L1956.66,608.64 L1951.28,608.46 L1945.91,608.29 L1940.54,608.14 L1935.17,608.00 L1929.79,607.88 L1924.42,607.77 L1919.05,607.67 L1913.67,607.58 L1908.30,607.50Z" fill="#2d87af" fill-opacity="0.1"/>
<path d="M1908.30,558.68 L1913.67,559.23 L1919.05,559.76 L1924.42,560.29 L1929.79,560.79 L1935.17,561.28 L1940.54,561.75 L1945.91,562.20 L1951.28,562.64 L1956.66,563.05 L1962.03,563.44 L1967.40,563.80 L1972.78,564.14 L1978.15,564.45 L1983.52,564.74 L1988.90,564.99 L1994.27,565.21 L1999.64,565.39 L2005.01,565.54 L2010.39,565.64 L2015.76,565.70 L2021.13,565.71 L2026.51,565.68 L2031.88,565.58 L2037.25,565.44 L2042.63,565.23 L2048.00,564.96 L2053.37,564.61 L2058.74,564.20 L2064.12,563.70 L2069.49,563.13 L2074.86,562.47 L2080.24,561.71 L2085.61,560.87 L2090.98,559.92 L2096.36,558.87 L2101.73,557.72 L2107.10,556.45 L2112.48,555.08 L2117.85,553.60 L2123.22,552.01 L2128.59,550.30 L2133.97,548.49 L2139.34,546.57 L2144.71,544.55 L2150.09,542.42 L2155.46,540.20 L2160.83,537.89 L2166.21,535.49 L2171.58,533.01 L2176.95,530.46 L2182.32,527.83 L2187.70,525.15 L2193.07,522.42 L2198.44,519.64 L2203.82,516.81 L2209.19,513.96 L2214.56,511.07 L2219.94,508.17 L2225.31,505.26 L2230.68,502.33 L2236.06,499.41 L2241.43,496.49 L2246.80,493.58 L2252.17,490.68 L2257.55,487.80 L2262.92,484.95 L2268.29,482.12 L2273.67,479.33 L2279.04,476.57 L2284.41,473.86 L2289.79,471.18 L2295.16,468.55 L2300.53,465.97 L2305.90,463.43 L2311.28,460.95 L2316.65,458.52 L2322.02,456.15 L2327.40,453.83 L2332.77,451.56 L2338.14,449.36 L2343.52,447.21 L2348.89,445.12 L2354.26,443.09 L2359.63,441.12 L2365.01,439.21 L2370.38,437.36 L2375.75,435.56 L2381.13,433.82 L2386.50,432.14 L2386.50,647.39 L2381.13,646.96 L2375.75,646.54 L2370.38,646.11 L2365.01,645.69 L2359.63,645.28 L2354.26,644.87 L2348.89,644.47 L2343.52,644.07 L2338.14,643.67 L2332.77,643.29 L2327.40,642.91 L2322.02,642.53 L2316.65,642.17 L2311.28,641.82 L2305.90,641.47 L2300.53,641.14 L2295.16,640.82 L2289.79,640.51 L2284.41,640.21 L2279.04,639.93 L2273.67,639.67 L2268.29,639.42 L2262.92,639.19 L2257.55,638.98 L2252.17,638.79 L2246.80,638.63 L2241.43,638.49 L2236.06,638.38 L2230.68,638.29 L2225.31,638.24 L2219.94,638.22 L2214.56,638.23 L2209.19,638.28 L2203.82,638.38 L2198.44,638.51 L2193.07,638.69 L2187.70,638.92 L2182.32,639.20 L2176.95,639.54 L2171.58,639.93 L2166.21,640.38 L2160.83,640.89 L2155.46,641.46 L2150.09,642.10 L2144.71,642.80 L2139.34,643.56 L2133.97,644.40 L2128.59,645.30 L2123.22,646.26 L2117.85,647.28 L2112.48,648.37 L2107.10,649.51 L2101.73,650.71 L2096.36,651.95 L2090.98,653.24 L2085.61,654.58 L2080.24,655.94 L2074.86,657.34 L2069.49,658.76 L2064.12,660.20 L2058.74,661.65 L2053.37,663.11 L2048.00,664.58 L2042.63,666.05 L2037.25,667.51 L2031.88,668.96 L2026.51,670.40 L2021.13,671.83 L2015.76,673.24 L2010.39,674.62 L2005.01,675.99 L1999.64,677.33 L1994.27,678.64 L1988.90,679.92 L1983.52,681.17 L1978.15,682.40 L1972.78,683.59 L1967.40,684.75 L1962.03,685.87 L1956.66,686.97 L1951.28,688.03 L1945.91,689.05 L1940.54,690.05 L1935.17,691.01 L1929.79,691.94 L1924.42,692.84 L1919.05,693.71 L1913.67,694.54 L1908.30,695.35Z" fill="#fdae61" fill-opacity="0.2"/>
<rect x="1826" y="771.5" width="592.50" height="424.50" fill="#fff"/>
<text transform="translate(1932.44,794.60) scale(0.9801,1)" font-size="19.20" font-weight="bold" fill="#000">Interaction between surgical approach and aCCI</text>
<text x="1975.89" y="830.30" font-size="14.10" font-weight="bold" fill="#000">Surgical approach</text>
<text x="2135.32" y="830.30" font-size="14.27" font-weight="normal" fill="#000">Open</text>
<text x="2205.84" y="830.30" font-size="14.17" font-weight="normal" fill="#000">Minimally invasive</text>
<rect x="2108.5" y="816" width="18.3" height="17.6" fill="#2d87af" fill-opacity="0.1"/>
<line x1="2109.4" y1="824.8" x2="2125.9" y2="824.8" stroke="#2474b4" stroke-width="2.4"/>
<rect x="2179.4" y="816" width="18.3" height="17.6" fill="#fdae61" fill-opacity="0.2"/>
<line x1="2180.3" y1="824.8" x2="2196.8" y2="824.8" stroke="#dc1f1a" stroke-width="2.4"/>
<line x1="1885.9" y1="870.9" x2="2409.9" y2="870.9" stroke="#dedede" stroke-width="1.45"/>
<line x1="1885.9" y1="940.1" x2="2409.9" y2="940.1" stroke="#dedede" stroke-width="1.45"/>
<line x1="1885.9" y1="1009.1" x2="2409.9" y2="1009.1" stroke="#dedede" stroke-width="1.45"/>
<line x1="1885.9" y1="1078.1" x2="2409.9" y2="1078.1" stroke="#dedede" stroke-width="1.45"/>
<line x1="1885.9" y1="1146.8" x2="2409.9" y2="1146.8" stroke="#dedede" stroke-width="1.45"/>
<line x1="1909.50" y1="860.4" x2="1909.50" y2="1146.8" stroke="#dedede" stroke-width="1.45"/>
<line x1="2028.75" y1="860.4" x2="2028.75" y2="1146.8" stroke="#dedede" stroke-width="1.45"/>
<line x1="2148.00" y1="860.4" x2="2148.00" y2="1146.8" stroke="#dedede" stroke-width="1.45"/>
<line x1="2267.25" y1="860.4" x2="2267.25" y2="1146.8" stroke="#dedede" stroke-width="1.45"/>
<line x1="2386.50" y1="860.4" x2="2386.50" y2="1146.8" stroke="#dedede" stroke-width="1.45"/>
<text transform="translate(1852.86,875.88) scale(0.9250,1)" font-size="14.25" font-weight="normal" fill="#4d4d4d">1.00</text>
<text transform="translate(1852.90,945.08) scale(0.9250,1)" font-size="14.25" font-weight="normal" fill="#4d4d4d">0.75</text>
<text transform="translate(1852.86,1014.08) scale(0.9250,1)" font-size="14.25" font-weight="normal" fill="#4d4d4d">0.50</text>
<text transform="translate(1852.90,1083.08) scale(0.9250,1)" font-size="14.25" font-weight="normal" fill="#4d4d4d">0.25</text>
<text transform="translate(1852.86,1151.78) scale(0.9250,1)" font-size="14.25" font-weight="normal" fill="#4d4d4d">0.00</text>
<text transform="translate(1905.85,1166.40) scale(0.9250,1)" font-size="14.25" font-weight="normal" fill="#4d4d4d">5</text>
<text transform="translate(2025.04,1166.40) scale(0.9250,1)" font-size="14.25" font-weight="normal" fill="#4d4d4d">6</text>
<text transform="translate(2144.33,1166.40) scale(0.9250,1)" font-size="14.25" font-weight="normal" fill="#4d4d4d">7</text>
<text transform="translate(2263.58,1166.40) scale(0.9250,1)" font-size="14.25" font-weight="normal" fill="#4d4d4d">8</text>
<text transform="translate(2382.84,1166.40) scale(0.9250,1)" font-size="14.25" font-weight="normal" fill="#4d4d4d">9</text>
<text transform="translate(2130.43,1184.10) scale(1.0269,1)" font-size="15.40" font-weight="normal" fill="#000">aCCI</text>
<text transform="translate(1846.70,1131.56) rotate(-90)" font-size="15.35" fill="#000">Predicted probability of complications</text>
<path d="M1909.50,1012.44 L2028.75,1035.34 L2148.00,1056.86 L2267.25,1075.89 L2386.50,1092.45" fill="none" stroke="#2474b4" stroke-width="3.0" stroke-linejoin="round"/>
<path d="M1909.50,1098.52 L2028.75,1038.92 L2148.00,966.36 L2267.25,912.56 L2386.50,886.63" fill="none" stroke="#dc1f1a" stroke-width="3.0" stroke-linejoin="round"/>
<path d="M1909.50,963.60 L2028.75,990.36 L2148.00,994.78 L2267.25,990.92 L2386.50,981.54 L2386.50,1136.04 L2267.25,1123.62 L2148.00,1101.83 L2028.75,1075.07 L1909.50,1059.89Z" fill="#2d87af" fill-opacity="0.1"/>
<path d="M1909.50,1051.06 L2028.75,990.92 L2148.00,916.42 L2267.25,881.66 L2386.50,873.66 L2386.50,958.36 L2267.25,990.92 L2148.00,1032.30 L2028.75,1079.48 L1909.50,1124.18Z" fill="#fdae61" fill-opacity="0.2"/>
<g transform="translate(129.2,1210.7) rotate(-34.6)"><line x1="0" y1="-105.8" x2="0" y2="-75" stroke="#1a1410" stroke-width="3.6"/><line x1="0" y1="-105" x2="0" y2="-75" stroke="#fff" stroke-width="1.6"/><line x1="0" y1="70" x2="0" y2="105.80000000000001" stroke="#1a1410" stroke-width="3.6"/><line x1="0" y1="70" x2="0" y2="105" stroke="#fff" stroke-width="1.6"/><path d="M8,-37.5 L36,-34.5 Q43,-33.8 43.3,-27 L44.4,3 Q44.6,10.5 37,11.5 L8,15.5" fill="none" stroke="#1a1410" stroke-width="5.4" stroke-linejoin="round"/><path d="M8,-37.5 L36,-34.5 Q43,-33.8 43.3,-27 L44.4,3 Q44.6,10.5 37,11.5 L8,15.5" fill="none" stroke="#fff" stroke-width="2.2" stroke-linejoin="round"/><rect x="-6.6" y="-79.5" width="13.2" height="19" rx="5.5" fill="#fff" stroke="#1a1410" stroke-width="1.9"/><rect x="-6.6" y="50" width="13.2" height="22.5" rx="5.5" fill="#fff" stroke="#1a1410" stroke-width="1.9"/><rect x="-10.6" y="-64.3" width="21.2" height="117.7" rx="2.5" fill="#fff" stroke="#1a1410" stroke-width="1.9"/><rect x="-11.8" y="-15.5" width="23.6" height="12.5" rx="3.5" fill="#fff" stroke="#1a1410" stroke-width="1.9"/></g>
<g transform="translate(453.45,1214.1) rotate(42.4)"><path d="M-10.3,-58.3 Q-15.5,-88 0,-111.9 Q11.5,-84 10.45,-58.3 Z" fill="#fff" stroke="#1a1410" stroke-width="2.2" stroke-linejoin="miter"/><path d="M10.3,57 Q15.5,88 0,111.9 Q-11.5,84 -10.45,57 Z" fill="#fff" stroke="#1a1410" stroke-width="2.2" stroke-linejoin="miter"/><rect x="-13.7" y="-58.5" width="27.4" height="115.8" rx="4" fill="#fff" stroke="#1a1410" stroke-width="2.2"/><line x1="9.3" y1="-15.4" x2="9.3" y2="13.1" stroke="#1a1410" stroke-width="1.8"/></g>
<polygon points="1336.33,664.47 1339.29,665.21 1351.90,850.56 1319.28,834.99 1318.53,832.76" fill="#3d86c9" stroke="#111" stroke-width="1.8" stroke-linejoin="round"/>
<line x1="1336.33" y1="669.66" x2="1320.76" y2="832.76" stroke="#163a5a" stroke-width="0.9"/>
<line x1="1337.22" y1="669.66" x2="1325.21" y2="831.87" stroke="#163a5a" stroke-width="0.9"/>
<line x1="1338.11" y1="669.66" x2="1329.66" y2="830.98" stroke="#163a5a" stroke-width="0.9"/>
<line x1="1339.00" y1="669.66" x2="1334.10" y2="830.09" stroke="#163a5a" stroke-width="0.9"/>
<polyline points="1319.28,834.54 1337.07,830.09 1351.16,847.59" fill="none" stroke="#111" stroke-width="1.6"/>
<path d="M1344.48,662.24 L1442.35,658.53 Q1447.54,658.53 1447.98,663.72 L1463.11,831.28 Q1463.55,836.47 1457.92,837.21 L1357.83,850.56 Q1352.64,851.30 1351.90,846.11 L1338.26,668.91 Q1337.81,662.54 1344.48,662.24 Z" fill="#3d86c9" stroke="#111" stroke-width="2"/>
<path d="M1347.45,689.67 L1369.69,688.93 L1372.66,687.75 L1426.04,685.23 L1427.52,684.19 L1444.57,684.48 L1457.18,828.32 Q1457.47,830.98 1454.21,831.58 L1361.54,842.40 Z" fill="#fdfdfd" stroke="#111" stroke-width="1.4"/>
<line x1="1342.42" y1="697.83" x2="1348.05" y2="697.83" stroke="#10263c" stroke-width="0.9"/>
<line x1="1342.71" y1="702.06" x2="1348.34" y2="702.06" stroke="#10263c" stroke-width="0.9"/>
<line x1="1342.99" y1="706.28" x2="1348.63" y2="706.28" stroke="#10263c" stroke-width="0.9"/>
<line x1="1343.28" y1="710.51" x2="1348.92" y2="710.51" stroke="#10263c" stroke-width="0.9"/>
<line x1="1343.57" y1="714.73" x2="1349.20" y2="714.73" stroke="#10263c" stroke-width="0.9"/>
<line x1="1343.86" y1="718.96" x2="1349.49" y2="718.96" stroke="#10263c" stroke-width="0.9"/>
<line x1="1344.14" y1="723.19" x2="1349.78" y2="723.19" stroke="#10263c" stroke-width="0.9"/>
<line x1="1344.43" y1="727.41" x2="1350.07" y2="727.41" stroke="#10263c" stroke-width="0.9"/>
<line x1="1344.72" y1="731.64" x2="1350.35" y2="731.64" stroke="#10263c" stroke-width="0.9"/>
<line x1="1345.01" y1="735.86" x2="1350.64" y2="735.86" stroke="#10263c" stroke-width="0.9"/>
<line x1="1345.29" y1="740.09" x2="1350.93" y2="740.09" stroke="#10263c" stroke-width="0.9"/>
<line x1="1345.58" y1="744.31" x2="1351.22" y2="744.31" stroke="#10263c" stroke-width="0.9"/>
<line x1="1345.87" y1="748.54" x2="1351.50" y2="748.54" stroke="#10263c" stroke-width="0.9"/>
<line x1="1346.16" y1="752.77" x2="1351.79" y2="752.77" stroke="#10263c" stroke-width="0.9"/>
<line x1="1346.44" y1="756.99" x2="1352.08" y2="756.99" stroke="#10263c" stroke-width="0.9"/>
<line x1="1346.73" y1="761.22" x2="1352.37" y2="761.22" stroke="#10263c" stroke-width="0.9"/>
<line x1="1347.02" y1="765.44" x2="1352.65" y2="765.44" stroke="#10263c" stroke-width="0.9"/>
<line x1="1347.31" y1="769.67" x2="1352.94" y2="769.67" stroke="#10263c" stroke-width="0.9"/>
<line x1="1347.59" y1="773.90" x2="1353.23" y2="773.90" stroke="#10263c" stroke-width="0.9"/>
<line x1="1347.88" y1="778.12" x2="1353.51" y2="778.12" stroke="#10263c" stroke-width="0.9"/>
<line x1="1348.17" y1="782.35" x2="1353.80" y2="782.35" stroke="#10263c" stroke-width="0.9"/>
<line x1="1348.45" y1="786.57" x2="1354.09" y2="786.57" stroke="#10263c" stroke-width="0.9"/>
<line x1="1348.74" y1="790.80" x2="1354.38" y2="790.80" stroke="#10263c" stroke-width="0.9"/>
<line x1="1349.03" y1="795.03" x2="1354.66" y2="795.03" stroke="#10263c" stroke-width="0.9"/>
<line x1="1349.32" y1="799.25" x2="1354.95" y2="799.25" stroke="#10263c" stroke-width="0.9"/>
<line x1="1349.60" y1="803.48" x2="1355.24" y2="803.48" stroke="#10263c" stroke-width="0.9"/>
<line x1="1349.89" y1="807.70" x2="1355.53" y2="807.70" stroke="#10263c" stroke-width="0.9"/>
<line x1="1350.18" y1="811.93" x2="1355.81" y2="811.93" stroke="#10263c" stroke-width="0.9"/>
<line x1="1350.47" y1="816.16" x2="1356.10" y2="816.16" stroke="#10263c" stroke-width="0.9"/>
<line x1="1350.75" y1="820.38" x2="1356.39" y2="820.38" stroke="#10263c" stroke-width="0.9"/>
<line x1="1351.04" y1="824.61" x2="1356.68" y2="824.61" stroke="#10263c" stroke-width="0.9"/>
<line x1="1351.33" y1="828.83" x2="1356.96" y2="828.83" stroke="#10263c" stroke-width="0.9"/>
<line x1="1351.62" y1="833.06" x2="1357.25" y2="833.06" stroke="#10263c" stroke-width="0.9"/>
<line x1="1351.90" y1="837.29" x2="1357.54" y2="837.29" stroke="#10263c" stroke-width="0.9"/>
<polygon points="1371.17,684.48 1426.04,682.26 1427.52,685.97 1372.66,688.19" fill="#3d86c9" stroke="#111" stroke-width="1.2"/>
<path d="M1363.76,677.81 L1363.02,663.72 Q1363.02,660.76 1366.73,660.76 L1425.30,658.53 Q1429.00,658.53 1429.00,662.24 L1429.74,675.59" fill="none" stroke="#111" stroke-width="4.2"/>
<path d="M1363.76,677.81 L1363.02,663.72 Q1363.02,660.76 1366.73,660.76 L1425.30,658.53 Q1429.00,658.53 1429.00,662.24 L1429.74,675.59" fill="none" stroke="#c9cdd0" stroke-width="2.2"/>
<polygon points="1360.05,669.66 1367.47,669.06 1368.21,679.29 1361.09,679.74" fill="#111"/>
<polygon points="1424.26,668.17 1430.78,667.58 1431.08,676.33 1424.85,676.77" fill="#111"/>
<polygon points="1388.23,656.01 1400.09,655.27 1401.13,659.57 1388.23,660.17" fill="#d5d9dc" stroke="#111" stroke-width="1"/>
<polygon points="1374.88,668.17 1418.62,666.39 1419.37,682.70 1375.92,684.19" fill="#fff" stroke="#111" stroke-width="1.3"/>
<line x1="1377.85" y1="671.88" x2="1385.26" y2="671.88" stroke="#555" stroke-width="1.0"/>
<line x1="1405.28" y1="671.14" x2="1412.69" y2="671.14" stroke="#555" stroke-width="1.0"/>
<line x1="1377.85" y1="677.81" x2="1384.52" y2="677.81" stroke="#555" stroke-width="1.0"/>
<line x1="1394.90" y1="677.37" x2="1398.16" y2="677.37" stroke="#555" stroke-width="1.0"/>
<line x1="1405.28" y1="677.07" x2="1415.66" y2="677.07" stroke="#555" stroke-width="1.0"/>
</svg>
</body></html>
